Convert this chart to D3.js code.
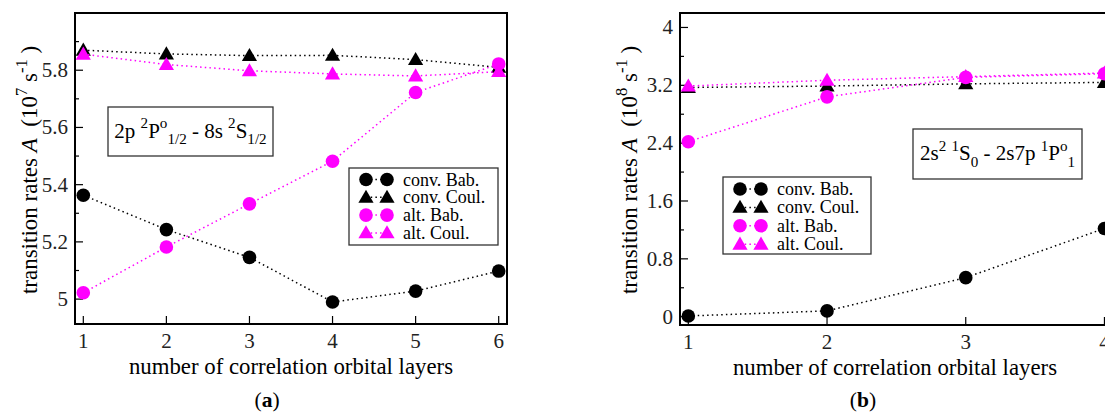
<!DOCTYPE html>
<html>
<head>
<meta charset="utf-8">
<script src="https://cdn.jsdelivr.net/npm/d3@7"></script>
<style>
  body { margin: 0; background: #fff; }
  svg { display: block; font-family: "Liberation Serif", "Times New Roman", serif; }
  text { white-space: pre; }
</style>
</head>
<body>
<div id="chart"></div>
<script>
// Panel (a): 2p 2P°1/2 - 8s 2S1/2, units 10^7 s^-1
const layersA = [1, 2, 3, 4, 5, 6];
const convBabA = [5.363, 5.243, 5.146, 4.99, 5.028, 5.098];
const convCoulA = [5.870, 5.857, 5.851, 5.852, 5.837, 5.810];
const altBabA = [5.022, 5.182, 5.333, 5.482, 5.722, 5.822];
const altCoulA = [5.856, 5.820, 5.798, 5.787, 5.780, 5.795];
const yTicksA = [5, 5.2, 5.4, 5.6, 5.8];
const yMinorA = [5.1, 5.3, 5.5, 5.7, 5.9];

// Panel (b): 2s2 1S0 - 2s7p 1P°1, units 10^8 s^-1
const layersB = [1, 2, 3, 4];
const convBabB = [0.01, 0.08, 0.54, 1.22];
const convCoulB = [3.17, 3.19, 3.22, 3.24];
const altBabB = [2.42, 3.04, 3.31, 3.36];
const altCoulB = [3.19, 3.27, 3.32, 3.37];
const yTicksB = [0, 0.8, 1.6, 2.4, 3.2, 4];
const yMinorB = [0.4, 1.2, 2.0, 2.8, 3.6];

const seriesNames = ["conv. Bab.", "conv. Coul.", "alt. Bab.", "alt. Coul."];

const MAGENTA = "#ff00ff";

const svg = d3.select("#chart").append("svg")
    .attr("width", 1105)
    .attr("height", 412);

function marker(g, shape, color, cx, cy) {
    if (shape === "circle") {
        g.append("circle").attr("cx", cx).attr("cy", cy).attr("r", 6.8).attr("fill", color);
    } else {
        const s = 7.6;
        g.append("path")
            .attr("d", `M${cx},${cy - s} L${cx + s},${cy + s * 0.72} L${cx - s},${cy + s * 0.72} Z`)
            .attr("fill", color);
    }
}

// rich text: parts are [text, "n"|"it"|"sup"|"sub"]
function richText(g, x, y, parts, size, anchor) {
    const t = g.append("text")
        .attr("x", x).attr("y", y)
        .attr("font-size", size)
        .attr("text-anchor", anchor || "start");
    let shift = 0;
    parts.forEach(([s, kind]) => {
        const target = kind === "sup" ? -size * 0.45 : kind === "sub" ? size * 0.33 : 0;
        t.append("tspan")
            .attr("dy", target - shift)
            .attr("font-size", kind === "sup" || kind === "sub" ? size * 0.72 : size)
            .attr("font-style", kind === "it" ? "italic" : null)
            .text(s);
        shift = target;
    });
    return t;
}

function drawPanel(cfg) {
    const { left, right, top, bottom } = cfg.box;
    const x = d3.scaleLinear().domain(cfg.xDomain).range([left, right]);
    const y = d3.scaleLinear().domain(cfg.yDomain).range([bottom, top]);

    const g = svg.append("g");

    // ticks (inward, grace style)
    g.append("g").selectAll("line")
        .data(cfg.layers)
        .join("line")
        .attr("x1", d => x(d)).attr("x2", d => x(d))
        .attr("y1", bottom).attr("y2", bottom - 8)
        .attr("stroke", "#000").attr("stroke-width", 1.2);

    g.append("g").selectAll("line")
        .data(cfg.yTicks)
        .join("line")
        .attr("x1", left).attr("x2", left + 8)
        .attr("y1", d => y(d)).attr("y2", d => y(d))
        .attr("stroke", "#000").attr("stroke-width", 1.2);

    g.append("g").selectAll("line")
        .data(cfg.yMinor)
        .join("line")
        .attr("x1", left).attr("x2", left + 4)
        .attr("y1", d => y(d)).attr("y2", d => y(d))
        .attr("stroke", "#000").attr("stroke-width", 1.2);

    // tick labels
    g.append("g").selectAll("text")
        .data(cfg.layers)
        .join("text")
        .attr("x", d => x(d))
        .attr("y", bottom + 24)
        .attr("text-anchor", "middle")
        .attr("font-size", 21)
        .attr("fill", "#222")
        .text(d => d);

    g.append("g").selectAll("text")
        .data(cfg.yTicks)
        .join("text")
        .attr("x", left - 7)
        .attr("y", d => y(d) + 7)
        .attr("text-anchor", "end")
        .attr("font-size", 21)
        .attr("fill", "#222")
        .text(d => d);

    // series, drawn in grace order
    const sets = [
        { vals: cfg.convBab, color: "#000", shape: "circle" },
        { vals: cfg.convCoul, color: "#000", shape: "triangle" },
        { vals: cfg.altCoul, color: MAGENTA, shape: "triangle" },
        { vals: cfg.altBab, color: MAGENTA, shape: "circle" }
    ];
    const line = d3.line().x(d => x(d[0])).y(d => y(d[1]));
    sets.forEach(s => {
        const pts = cfg.layers.map((l, i) => [l, s.vals[i]]);
        g.append("path")
            .attr("d", line(pts))
            .attr("fill", "none")
            .attr("stroke", s.color)
            .attr("stroke-width", 1.5)
            .attr("stroke-dasharray", "1.5,3.2");
        const mg = g.append("g");
        pts.forEach(p => marker(mg, s.shape, s.color, x(p[0]), y(p[1])));
    });

    // frame
    g.append("rect")
        .attr("x", left).attr("y", top)
        .attr("width", right - left).attr("height", bottom - top)
        .attr("fill", "none").attr("stroke", "#000").attr("stroke-width", 2);

    // legend
    const lg = cfg.legend;
    g.append("rect")
        .attr("x", lg.x).attr("y", lg.y)
        .attr("width", lg.w).attr("height", lg.h)
        .attr("fill", "#fff").attr("stroke", "#333").attr("stroke-width", 1.3);
    const legendSets = [sets[0], sets[1], sets[3], sets[2]];
    legendSets.forEach((s, i) => {
        const cy = lg.y + lg.first + i * lg.step;
        const sx1 = lg.x + 17, sx2 = lg.x + 38;
        g.append("line")
            .attr("x1", sx1).attr("x2", sx2)
            .attr("y1", cy).attr("y2", cy)
            .attr("stroke", s.color).attr("stroke-width", 1.5)
            .attr("stroke-dasharray", "1.5,3.2");
        marker(g, s.shape, s.color, sx1, cy);
        marker(g, s.shape, s.color, sx2, cy);
        g.append("text")
            .attr("x", lg.x + 54)
            .attr("y", cy + 6)
            .attr("font-size", 18)
            .text(seriesNames[i]);
    });

    // transition label box
    const tb = cfg.tbox;
    g.append("rect")
        .attr("x", tb.x).attr("y", tb.y)
        .attr("width", tb.w).attr("height", tb.h)
        .attr("fill", "#fff").attr("stroke", "#333").attr("stroke-width", 1.3);
    richText(g, tb.x + tb.w / 2, tb.y + tb.h / 2 + 6, cfg.tparts, 21, "middle");

    // axis titles
    g.append("text")
        .attr("x", (left + right) / 2)
        .attr("y", bottom + 50)
        .attr("text-anchor", "middle")
        .attr("font-size", 22.8)
        .text("number of correlation orbital layers");

    richText(g, 0, 0, [["transition rates ", "n"], ["A", "it"], ["  (10", "n"], [cfg.exp, "sup"],
        [" s", "n"], ["-1", "sup"], [" )", "n"]], 23, "middle")
        .attr("transform", `translate(${cfg.ylabX},${cfg.ylabY}) rotate(-90)`);

    // panel letter
    const pl = g.append("text")
        .attr("x", cfg.letterX)
        .attr("y", 407)
        .attr("text-anchor", "middle")
        .attr("font-size", 21.5);
    pl.append("tspan").text("(");
    pl.append("tspan").attr("font-weight", "bold").text(cfg.letter);
    pl.append("tspan").text(")");
}

drawPanel({
    box: { left: 75, right: 507, top: 13, bottom: 324 },
    xDomain: [0.9, 6.1],
    yDomain: [4.913, 6.0],
    layers: layersA,
    yTicks: yTicksA, yMinor: yMinorA,
    convBab: convBabA, convCoul: convCoulA, altBab: altBabA, altCoul: altCoulA,
    legend: { x: 349, y: 168, w: 149, h: 77, first: 11.5, step: 17.8 },
    tbox: { x: 108, y: 107, w: 165, h: 49 },
    tparts: [["2p ", "n"], ["2", "sup"], ["P", "n"], ["o", "sup"], ["1/2", "sub"], [" - 8s ", "n"],
        ["2", "sup"], ["S", "n"], ["1/2", "sub"]],
    exp: "7",
    ylabX: 37, ylabY: 170,
    letter: "a", letterX: 267
});

drawPanel({
    box: { left: 680, right: 1110, top: 13, bottom: 325 },
    xDomain: [0.94, 4.04],
    yDomain: [-0.115, 4.2],
    layers: layersB,
    yTicks: yTicksB, yMinor: yMinorB,
    convBab: convBabB, convCoul: convCoulB, altBab: altBabB, altCoul: altCoulB,
    legend: { x: 723, y: 177, w: 148, h: 77, first: 12, step: 18.4 },
    tbox: { x: 913, y: 129, w: 169, h: 50 },
    tparts: [["2s", "n"], ["2", "sup"], [" ", "n"], ["1", "sup"], ["S", "n"], ["0", "sub"], [" - 2s7p ", "n"],
        ["1", "sup"], ["P", "n"], ["o", "sup"], ["1", "sub"]],
    exp: "8",
    ylabX: 637, ylabY: 170,
    letter: "b", letterX: 863
});
</script>
</body>
</html>
